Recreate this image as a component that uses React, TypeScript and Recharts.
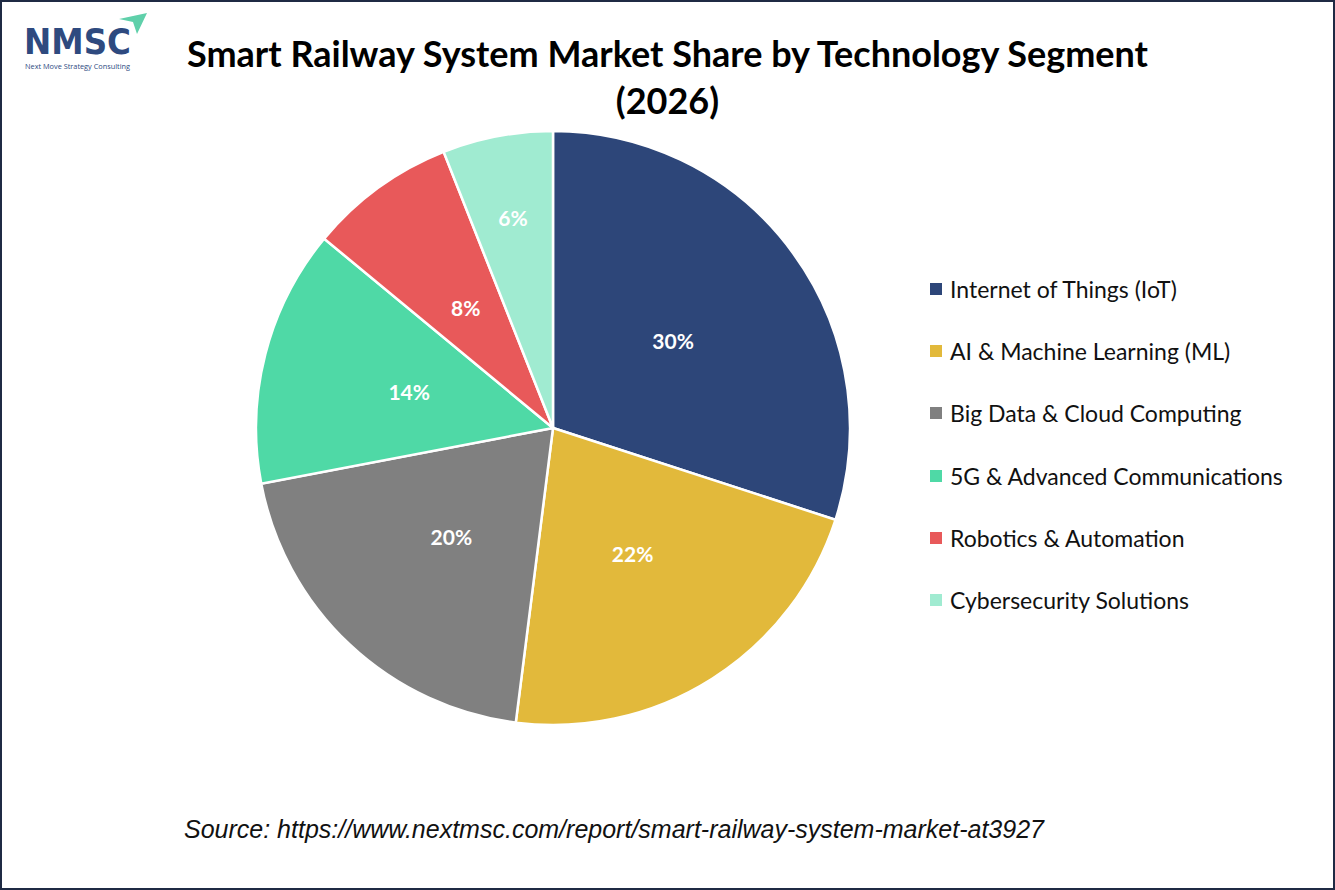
import React from 'react';
import { PieChart, Pie, Cell, Legend } from 'recharts';

const segments = [
  'Internet of Things (IoT)',
  'AI & Machine Learning (ML)',
  'Big Data & Cloud Computing',
  '5G & Advanced Communications',
  'Robotics & Automation',
  'Cybersecurity Solutions',
];
const shares = [30, 22, 20, 14, 8, 6];
const colors = ['#2d4679', '#e2b93b', '#808080', '#4fd9a6', '#e8595a', '#a0ebd1'];

const data = segments.map((name, i) => ({ name, value: shares[i] }));

const RAD = Math.PI / 180;

// small slices get their label pushed further out, like the original
const renderLabel = (props: any) => {
  const { cx, cy, midAngle, outerRadius, value } = props;
  const r = outerRadius * (value < 7 ? 0.72 : 0.5);
  const x = cx + r * Math.cos(-midAngle * RAD);
  const y = cy + r * Math.sin(-midAngle * RAD);
  return (
    <text
      x={x}
      y={y}
      fill="#ffffff"
      textAnchor="middle"
      dominantBaseline="central"
      fontFamily="Lato, 'Open Sans', sans-serif"
      fontWeight={700}
      fontSize={21}
    >
      {`${value}%`}
    </text>
  );
};

const LegendList = () => (
  <div style={{ fontFamily: "Lato, 'Open Sans', sans-serif", fontSize: 23, color: '#111' }}>
    {segments.map((s, i) => (
      <div key={s} style={{ display: 'flex', alignItems: 'center', height: 62.2 }}>
        <span style={{ width: 12, height: 12, background: colors[i], display: 'inline-block', marginRight: 8 }} />
        <span>{s}</span>
      </div>
    ))}
  </div>
);

const App: React.FC = () => {
  return (
    <div
      style={{
        position: 'absolute',
        left: 0,
        top: 0,
        width: 1335,
        height: 890,
        boxSizing: 'border-box',
        border: '2px solid #1f2a44',
        background: '#ffffff',
        overflow: 'hidden',
      }}
    >
      {/* logo */}
      <svg width={160} height={75} style={{ position: 'absolute', left: -2, top: -2 }}>
        <text
          x={24}
          y={54}
          fontFamily="'DejaVu Sans', sans-serif"
          fontWeight={700}
          fontSize={36}
          fill="#2e4a7f"
          textLength={107}
          lengthAdjust="spacingAndGlyphs"
        >
          NMSC
        </text>
        <polygon points="119,19 147,13 137,34 133,22" fill="#5fd0aa" />
        <text
          x={25}
          y={69}
          fontFamily="'Open Sans', sans-serif"
          fontSize={7}
          fill="#2e4a7f"
          textLength={105}
          lengthAdjust="spacingAndGlyphs"
        >
          Next Move Strategy Consulting
        </text>
      </svg>

      {/* title */}
      <div
        style={{
          position: 'absolute',
          left: 0,
          top: 28,
          width: 1331,
          textAlign: 'center',
          fontFamily: "Lato, 'Open Sans', sans-serif",
          fontWeight: 700,
          fontSize: 36,
          lineHeight: '47px',
          color: '#000',
        }}
      >
        <div>Smart Railway System Market Share by Technology Segment</div>
        <div>(2026)</div>
      </div>

      <div style={{ position: 'absolute', left: 0, top: 0 }}>
        <PieChart width={1331} height={886} margin={{ top: 0, right: 0, bottom: 0, left: 0 }}>
          <Pie
            data={data}
            dataKey="value"
            nameKey="name"
            cx={551}
            cy={426}
            outerRadius={297}
            startAngle={90}
            endAngle={-270}
            stroke="#ffffff"
            strokeWidth={2.5}
            label={renderLabel}
            labelLine={false}
            isAnimationActive={false}
          >
            {data.map((d, i) => (
              <Cell key={d.name} fill={colors[i]} />
            ))}
          </Pie>
          <Legend
            content={<LegendList />}
            layout="vertical"
            wrapperStyle={{ position: 'absolute', left: 928, top: 256, width: 400 }}
          />
        </PieChart>
      </div>

      {/* source */}
      <div
        style={{
          position: 'absolute',
          left: 182,
          top: 813,
          fontFamily: "'Liberation Sans', Arial, sans-serif",
          fontStyle: 'italic',
          fontSize: 25,
          color: '#111',
        }}
      >
        Source: https://www.nextmsc.com/report/smart-railway-system-market-at3927
      </div>
    </div>
  );
};

export default App;
